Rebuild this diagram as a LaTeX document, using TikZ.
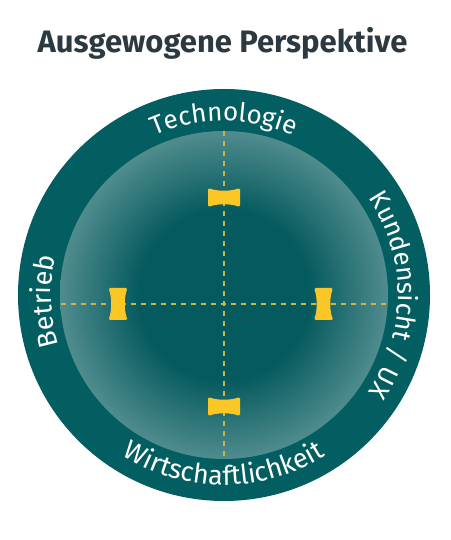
\documentclass[tikz,border=0pt]{standalone}
\usepackage{fontspec}
\setmainfont{Fira Sans}
\usepackage{tikz}
\usetikzlibrary{calc,decorations.text}
\definecolor{ringteal}{RGB}{3,94,97}
\definecolor{lensdark}{RGB}{5,90,94}
\definecolor{lenslight}{RGB}{80,140,142}
\definecolor{gold}{RGB}{250,199,38}
\definecolor{golddash}{RGB}{214,178,56}
\definecolor{titlegray}{RGB}{45,57,65}
\pgfdeclareradialshading{lens}{\pgfpoint{0bp}{0bp}}{color(0bp)=(lensdark); color(13bp)=(lensdark); color(25bp)=(lenslight); color(50bp)=(lenslight)}
\newcommand{\ringfont}[1]{\color{white}\fontsize{#1}{#1}\selectfont}
\tikzset{
    ringlabel/.style={decorate,decoration={text along path,text align=center}},
    axisline/.style={golddash,line width=1.3pt,dash pattern=on 5pt off 5pt},
    clamp/.pic={\fill[gold,rounded corners=1.5pt] (-16,-9.5) -- (-16,9.5) .. controls (-6,6) and (6,6) .. (16,9.5) -- (16,-9.5) .. controls (6,-6) and (-6,-6) .. (-16,-9.5) -- cycle;}
}

\begin{document}
\begin{tikzpicture}[x=1pt,y=1pt]
                \useasboundingbox (0,0) rectangle (450,540);
                \def\outerR{206}
                \def\innerR{164}
                \coordinate (C) at (224,245);
                %Title
                \node[anchor=base,font=\bfseries\fontsize{31}{31}\selectfont,text=titlegray] (title) at (222.5,487) {Ausgewogene Perspektive};
                %Ring and lens
                \fill[ringteal] (C) circle (\outerR);
                \shade[shading=lens] (C) circle (\innerR);
                %Ring labels
                \path[ringlabel,decoration={text={|\ringfont{26}|Technologie}}] ($(C)+(150:174)$) arc[start angle=150,end angle=30,radius=174];
                \path[ringlabel,decoration={text={|\ringfont{26}|Kundensicht / UX}}] ($(C)+(80:174)$) arc[start angle=80,end angle=-80,radius=174];
                \path[ringlabel,decoration={text={|\ringfont{27}|Betrieb}}] ($(C)+(262:173)$) arc[start angle=262,end angle=102,radius=173];
                \path[ringlabel,decoration={text={|\ringfont{27}|Wirtschaftlichkeit}}] ($(C)+(200:190)$) arc[start angle=200,end angle=340,radius=190];
                %Axes
                \coordinate (top) at (224,409);
                \coordinate (bottom) at (224,81);
                \coordinate (left) at (60.5,236);
                \coordinate (right) at (387.5,236);
                \draw[axisline] (top) -- (bottom);
                \draw[axisline] (left) -- (right);
                %Clamps
                \pic (tech) at (224,342.5) {clamp};
                \pic (wirt) at (224,133.5) {clamp};
                \pic[rotate=90] (betr) at (118,236) {clamp};
                \pic[rotate=90] (kund) at (323.5,236) {clamp};
            \end{tikzpicture}
\end{document}
